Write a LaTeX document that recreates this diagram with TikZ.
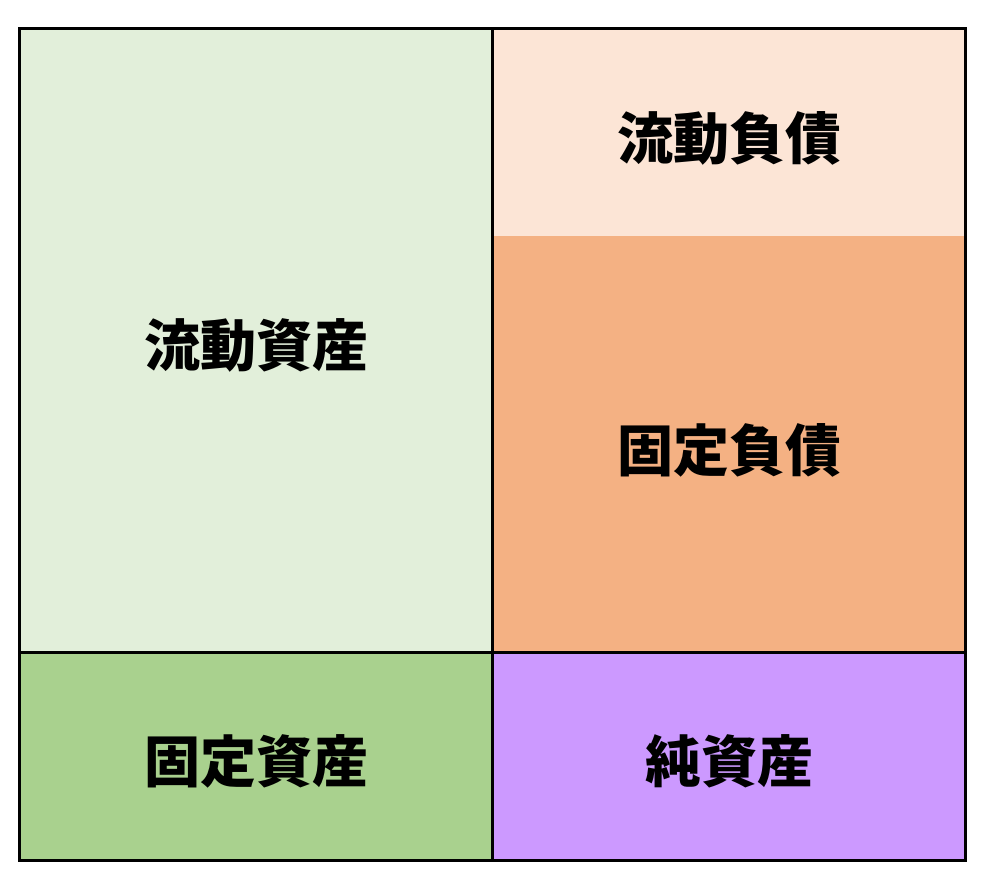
\documentclass[tikz,border=0pt]{standalone}
\usepackage{fontspec}
\usepackage{xcolor}
\usetikzlibrary{positioning}
\newfontfamily\jpfont{Noto Sans CJK JP}
\definecolor{lightgreen}{RGB}{226,239,218}
\definecolor{midgreen}{RGB}{169,209,142}
\definecolor{lightpeach}{RGB}{252,229,214}
\definecolor{midpeach}{RGB}{244,177,131}
\definecolor{lilac}{RGB}{204,153,255}

\begin{document}
\begin{tikzpicture}[x=1pt, y=-1pt,
    label/.style={font=\jpfont\bfseries\fontsize{56}{60}\selectfont, inner sep=0pt}]
    \useasboundingbox (0,0) rectangle (982,886);

    % Asset side
    \fill[lightgreen] (19.5,28.5) rectangle (492.5,652.5);
    \fill[midgreen] (19.5,652.5) rectangle (492.5,860.5);

    % Liability side
    \fill[lightpeach] (492.5,28.5) rectangle (965.5,235.7);
    \fill[midpeach] (492.5,235.7) rectangle (965.5,652.5);
    \fill[lilac] (492.5,652.5) rectangle (965.5,860.5);

    % Frame and dividers
    \draw[line width=3pt] (19.5,28.5) rectangle (965.5,860.5);
    \draw[line width=3pt] (492.5,28.5) -- (492.5,860.5);
    \draw[line width=3pt] (19.5,652.5) -- (965.5,652.5);

    % Labels
    \node[label] (curassets) at (256,345) {流動資産};
    \node[label] (fixassets) at (256,761) {固定資産};
    \node[label] (curliab) at (729,138) {流動負債};
    \node[label] (fixliab) at (729,450) {固定負債};
    \node[label] (netassets) at (729,761) {純資産};
\end{tikzpicture}
\end{document}
